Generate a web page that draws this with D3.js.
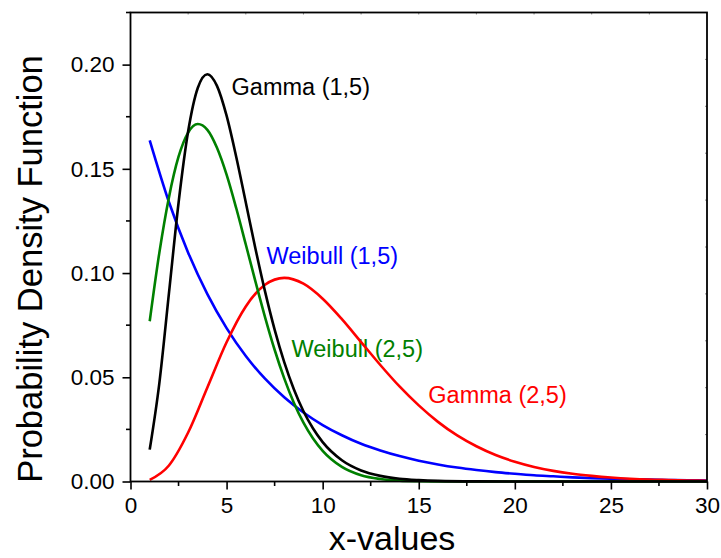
<!DOCTYPE html>
<html><head><meta charset="utf-8">
<script src="https://cdn.jsdelivr.net/npm/d3@7/dist/d3.min.js"></script>
<style>body{margin:0;background:#fff}svg{display:block}text{font-family:"Liberation Sans",Arial,sans-serif}</style>
</head><body><svg id="c" width="721" height="558"></svg>
<script>
// Data
const xMajorTicks = [0, 5, 10, 15, 20, 25, 30];
const yMajorTicks = [0.00, 0.05, 0.10, 0.15, 0.20];
const xLabel = "x-values";
const yLabel = "Probability Density Function";

const gamma15X = [1,1.5,2,2.5,3,3.5,4,4.5,5,5.5,6,6.5,7,7.5,8,8.5,9,9.5,10,11,12,13,14,15,16,18,20,25,30];
const gamma15Y = [0.0153,0.0471,0.0902,0.1336,0.1680,0.1888,0.1954,0.1898,0.1755,0.1558,0.1339,0.1118,0.0912,0.0729,0.0573,0.0443,0.0337,0.0254,0.0189,0.0102,0.0053,0.0027,0.0013,0.00065,0.0003,0.00007,0.00001,0,0];

const gamma25X = [1,2,3,4,5,6,7,8,9,10,11,12,13,14,15,16,17,18,19,20,21,22,23,24,25,26,27,28,29,30];
const gamma25Y = [0.0008,0.0077,0.0235,0.0451,0.0668,0.0840,0.0944,0.0977,0.0949,0.0877,0.0779,0.0669,0.0559,0.0456,0.0365,0.0286,0.0221,0.0169,0.0127,0.0095,0.0070,0.0051,0.0037,0.0027,0.0019,0.0013,0.0009,0.0007,0.0005,0.0003];

const weib15X = [1,2,3,4,5,6,7,8,9,10,11,12,13,14,15,16,17,18,19,20,21,22,23,24,25,26,27,28,29,30];
const weib15Y = [0.1637,0.1341,0.1098,0.0899,0.0736,0.0602,0.0493,0.0404,0.0331,0.0271,0.0222,0.0181,0.0149,0.0122,0.0100,0.0082,0.0067,0.0055,0.0045,0.0037,0.0030,0.0025,0.0020,0.0016,0.0013,0.0011,0.0009,0.0007,0.0006,0.0005];

const weib25X = [1,1.5,2,2.5,3,3.5,4,4.5,5,5.5,6,6.5,7,7.5,8,8.5,9,9.5,10,11,12,13,14,15,16,18,20,25,30];
const weib25Y = [0.0769,0.1097,0.1363,0.1558,0.1674,0.1715,0.1687,0.1601,0.1472,0.1312,0.1137,0.0960,0.0789,0.0632,0.0495,0.0378,0.0282,0.0206,0.0147,0.0070,0.0030,0.0012,0.0004,0.00015,0.00005,0,0,0,0];

const seriesNames = ["Weibull (1,5)", "Gamma (2,5)", "Weibull (2,5)", "Gamma (1,5)"];
const seriesColors = ["#0000ff", "#ff0000", "#008000", "#000000"];
const seriesX = [weib15X, gamma25X, weib25X, gamma15X];
const seriesY = [weib15Y, gamma25Y, weib25Y, gamma15Y];
// label anchor positions in data units (x, y)
const labelX = [7.08, 15.5, 8.38, 5.26];
const labelY = [0.1043, 0.0378, 0.0595, 0.1855];

const svg = d3.select("#c");
const L = 130.5, R = 707, T = 12.5, B = 481.5;
const x = d3.scaleLinear().domain([0, 30]).range([L, R]);
const y = d3.scaleLinear().domain([0, 0.225]).range([B, T]);

// labels (drawn beneath curves)
seriesNames.forEach((n, i) => {
  svg.append("text").attr("x", x(labelX[i])).attr("y", y(labelY[i]))
    .attr("font-size", 23.5).attr("fill", seriesColors[i]).text(n);
});

// curves
const line = d3.line().curve(d3.curveMonotoneX);
seriesX.forEach((xs, i) => {
  const pts = xs.map((v, j) => [x(v), y(seriesY[i][j])]);
  svg.append("path").attr("d", line(pts)).attr("fill", "none")
    .attr("stroke", seriesColors[i]).attr("stroke-width", 2.6);
});

// bottom axis
const xMinor = d3.range(2.5, 30, 5);
const gx = svg.append("g").attr("transform", `translate(0,${B})`);
gx.call(d3.axisBottom(x).tickValues(xMajorTicks).tickSize(8).tickPadding(8).tickFormat(d3.format("d")));
gx.selectAll(".tick line").attr("stroke-width", 1.6);
gx.select(".domain").remove();
gx.selectAll(".tick text").attr("font-size", 22.5).attr("fill", "#000").attr("font-family", '"Liberation Sans",Arial,sans-serif');
gx.selectAll(".minor").data(xMinor).enter().append("line").attr("class", "minor")
  .attr("x1", d => x(d)).attr("x2", d => x(d)).attr("y1", 0).attr("y2", 4.5)
  .attr("stroke", "#000").attr("stroke-width", 1.6);

// left axis
const yMinor = d3.range(0.025, 0.23, 0.05);
const gy = svg.append("g").attr("transform", `translate(${L},0)`);
gy.call(d3.axisLeft(y).tickValues(yMajorTicks).tickSize(8).tickPadding(8).tickFormat(d3.format(".2f")));
gy.selectAll(".tick line").attr("stroke-width", 1.6);
gy.select(".domain").remove();
gy.selectAll(".tick text").attr("font-size", 22.5).attr("fill", "#000").attr("font-family", '"Liberation Sans",Arial,sans-serif');
gy.selectAll(".minor").data(yMinor).enter().append("line").attr("class", "minor")
  .attr("y1", d => y(d)).attr("y2", d => y(d)).attr("x1", 0).attr("x2", -4.5)
  .attr("stroke", "#000").attr("stroke-width", 1.6);

// top and right axes with small inner ticks
const gt = svg.append("g").attr("transform", `translate(0,${T})`);
gt.selectAll("line").data(d3.range(3, 30, 3)).enter().append("line")
  .attr("x1", d => x(d)).attr("x2", d => x(d)).attr("y1", 0).attr("y2", 2)
  .attr("stroke", "#888").attr("stroke-width", 1);
const gr = svg.append("g").attr("transform", `translate(${R},0)`);
gr.selectAll("line").data(d3.range(1, 10).map(k => k * 0.0225)).enter().append("line")
  .attr("y1", d => y(d)).attr("y2", d => y(d)).attr("x1", 0).attr("x2", -2)
  .attr("stroke", "#888").attr("stroke-width", 1);

// frame
svg.append("rect").attr("x", L).attr("y", T).attr("width", R - L).attr("height", B - T)
  .attr("fill", "none").attr("stroke", "#000").attr("stroke-width", 1.8);

// axis titles
svg.append("text").attr("x", 392).attr("y", 550).attr("text-anchor", "middle")
  .attr("font-size", 34).attr("fill", "#000").text(xLabel);
svg.append("text").attr("transform", `translate(42,${(53 + 485) / 2}) rotate(-90)`)
  .attr("text-anchor", "middle").attr("font-size", 34.5).attr("fill", "#000").text(yLabel);
</script></body></html>
